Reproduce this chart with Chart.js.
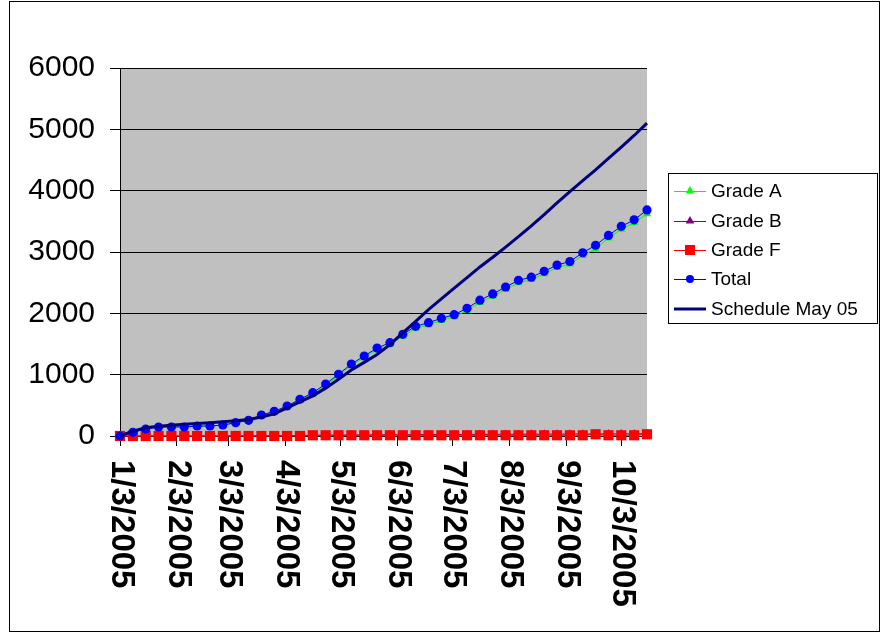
<!DOCTYPE html>
<html><head><meta charset="utf-8">
<script src="https://cdn.jsdelivr.net/npm/chart.js@4/dist/chart.umd.min.js"></script>
<style>html,body{margin:0;padding:0;background:#fff}</style>
</head><body>
<canvas id="c" width="882" height="634" style="display:block;width:882px;height:634px"></canvas>
<script>
const dates = [
  '1/3/2005','1/10/2005','1/17/2005','1/24/2005','1/31/2005',
  '2/7/2005','2/14/2005','2/21/2005','2/28/2005',
  '3/7/2005','3/14/2005','3/21/2005','3/28/2005',
  '4/4/2005','4/11/2005','4/18/2005','4/25/2005',
  '5/2/2005','5/9/2005','5/16/2005','5/23/2005','5/30/2005',
  '6/6/2005','6/13/2005','6/20/2005','6/27/2005',
  '7/4/2005','7/11/2005','7/18/2005','7/25/2005',
  '8/1/2005','8/8/2005','8/15/2005','8/22/2005','8/29/2005',
  '9/5/2005','9/12/2005','9/19/2005','9/26/2005',
  '10/3/2005','10/10/2005','10/17/2005'
];
const gradeA = [0,60,114,147,147,147,163,163,179,217,253,338,398,483,590,684,824,980,1147,1275,1404,1489,1625,1754,1812,1883,1942,2045,2177,2278,2389,2497,2548,2643,2744,2801,2943,3049,3225,3371,3476,3621];
const gradeB = [0,0,0,0,0,0,0,0,0,0,3,4,5,6,8,10,12,14,15,17,18,20,21,22,23,24,24,25,26,27,28,29,30,30,31,32,33,33,34,35,36,37];
const gradeF = [0,0,0,0,0,0,0,0,0,0,0,0,0,0,0,12,12,12,12,12,12,12,12,12,12,12,12,12,12,12,12,12,12,12,12,12,12,28,12,12,12,28];
const total = [0,60,114,147,147,147,163,163,179,217,256,342,403,489,598,706,848,1006,1174,1304,1434,1521,1658,1788,1847,1919,1978,2082,2215,2317,2429,2538,2590,2685,2787,2845,2988,3110,3271,3418,3524,3686];
const schedule = [0,80,135,160,175,190,205,218,232,250,270,310,360,460,555,655,780,925,1075,1200,1330,1490,1680,1870,2060,2235,2410,2583,2756,2914,3080,3250,3425,3610,3800,3985,4165,4340,4525,4710,4900,5100];
const tickLabels = ['1/3/2005','2/3/2005','3/3/2005','4/3/2005','5/3/2005','6/3/2005','7/3/2005','8/3/2005','9/3/2005','10/3/2005'];
const seriesNames = ['Grade A','Grade B','Grade F','Total','Schedule May 05'];

const BASE = Date.UTC(2005,0,3);
function dayOf(s){ const p = s.split('/').map(Number); return Math.round((Date.UTC(p[2],p[0]-1,p[1]) - BASE)/86400000); }
function pts(arr){ return dates.map((d,i)=>({x: dayOf(d), y: arr[i]})); }

const FONT = "'Liberation Sans', Arial, sans-serif";

const styles = [
  {color:'#00FF00', marker:'triangle', r:4.8, lw:1, order:5},
  {color:'#800080', marker:'triangle', r:4.8, lw:1, order:4},
  {color:'#FF0000', marker:'rect', r:7.2, lw:1, order:3},
  {color:'#0000FF', marker:'circle', r:4.6, lw:1, order:2},
  {color:'#000080', marker:false, r:0, lw:3, order:1}
];
const seriesData = [gradeA, gradeB, gradeF, total, schedule];

const datasets = seriesData.map((arr,i)=>({
  label: seriesNames[i],
  data: pts(arr),
  borderColor: styles[i].color,
  backgroundColor: styles[i].color,
  borderWidth: styles[i].lw,
  pointStyle: styles[i].marker || 'circle',
  pointRadius: styles[i].r,
  pointHoverRadius: styles[i].r,
  pointBorderWidth: 0,
  pointBackgroundColor: styles[i].color,
  tension: 0,
  clip: false,
  order: styles[i].order
}));

function drawMarker(ctx, type, x, y, color){
  ctx.fillStyle = color;
  ctx.beginPath();
  if (type === 'triangle'){
    const r = 5;
    ctx.moveTo(x, y - r);
    ctx.lineTo(x + r*0.866, y + r/2);
    ctx.lineTo(x - r*0.866, y + r/2);
    ctx.closePath();
  } else if (type === 'rect'){
    ctx.rect(x - 5, y - 5, 10, 10);
  } else if (type === 'circle'){
    ctx.arc(x, y, 4, 0, Math.PI*2);
  }
  ctx.fill();
}

const decor = {
  id: 'decor',
  beforeDraw(chart){
    const {ctx, chartArea:a} = chart;
    ctx.save();
    ctx.fillStyle = '#fff';
    ctx.fillRect(0,0,chart.width,chart.height);
    ctx.fillStyle = '#C0C0C0';
    ctx.fillRect(a.left, a.top, a.right - a.left, a.bottom - a.top);
    ctx.restore();
  },
  afterDraw(chart){
    const {ctx} = chart;
    const xs = chart.scales.x;
    ctx.save();
    ctx.fillStyle = '#000';
    ctx.font = 'bold 33px ' + FONT;
    ctx.textAlign = 'left';
    ctx.textBaseline = 'middle';
    tickLabels.forEach(t => {
      const px = xs.getPixelForValue(dayOf(t));
      ctx.save();
      ctx.translate(px + 1, 460);
      ctx.rotate(Math.PI/2);
      ctx.fillText(t, 0, 0);
      ctx.restore();
    });
    ctx.strokeStyle = '#000';
    ctx.lineWidth = 1;
    ctx.strokeRect(9.5, 1.5, 870, 630);
    const lx = 668.5, ly = 173.5, lw = 209, lh = 150;
    ctx.fillStyle = '#fff';
    ctx.fillRect(lx, ly, lw, lh);
    ctx.strokeRect(lx, ly, lw, lh);
    ctx.font = '19px ' + FONT;
    ctx.textBaseline = 'middle';
    ctx.textAlign = 'left';
    const ys = [191, 221, 250, 279, 309];
    seriesNames.forEach((n,i)=>{
      const y = ys[i];
      ctx.strokeStyle = styles[i].color;
      ctx.lineWidth = styles[i].lw;
      ctx.beginPath();
      ctx.moveTo(674, y + (styles[i].lw === 1 ? 0.5 : 0));
      ctx.lineTo(706, y + (styles[i].lw === 1 ? 0.5 : 0));
      ctx.stroke();
      if (styles[i].marker) drawMarker(ctx, styles[i].marker, 690, y, styles[i].color);
      ctx.fillStyle = '#000';
      ctx.fillText(n, 711, y + 1);
    });
    ctx.restore();
  }
};

new Chart(document.getElementById('c'), {
  type: 'line',
  data: { datasets },
  options: {
    responsive: false,
    devicePixelRatio: 1,
    animation: false,
    events: [],
    layout: { padding: { left: 0, top: 68, right: 235, bottom: 188 } },
    plugins: { legend: { display: false }, tooltip: { enabled: false } },
    scales: {
      x: {
        type: 'linear',
        min: 0,
        max: dayOf(dates[dates.length-1]),
        afterBuildTicks: s => { s.ticks = tickLabels.map(t => ({ value: dayOf(t) })); },
        afterFit: s => { s.height = 10; },
        ticks: { display: false },
        grid: { drawOnChartArea: false, drawTicks: true, tickLength: 10, color: '#000', lineWidth: 1 },
        border: { display: true, color: '#000', width: 1 }
      },
      y: {
        min: 0,
        max: 6000,
        afterFit: s => { s.width = 120; },
        ticks: { stepSize: 1000, color: '#000', padding: 15, font: { family: FONT, size: 30 }, callback: v => String(v) },
        grid: { color: '#000', lineWidth: 1, tickLength: 10, drawTicks: true },
        border: { display: true, color: '#000', width: 1 }
      }
    }
  },
  plugins: [decor]
});
</script>
</body></html>
